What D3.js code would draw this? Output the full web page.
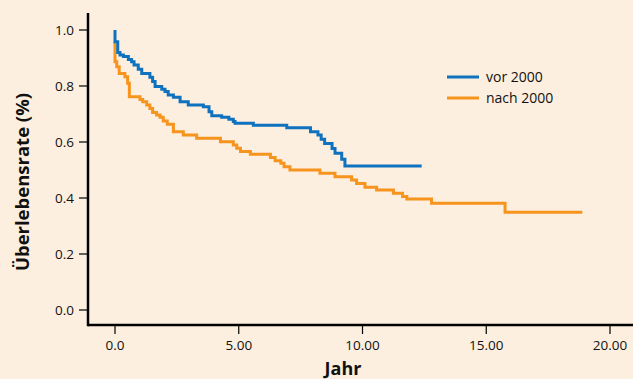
<!DOCTYPE html>
<html><head><meta charset="utf-8">
<script src="https://cdn.jsdelivr.net/npm/d3@7"></script>
<style>
html,body{margin:0;padding:0;background:#fcefdf;}
svg{display:block;font-family:"Open Sans",sans-serif;}
</style></head>
<body>
<svg id="chart" width="633" height="379"></svg>
<script>
const seriesNames = ["vor 2000", "nach 2000"];
const seriesColors = ["#0f72bf", "#f7941d"];
const vorT = [0, 0, 0.11, 0.2, 0.34, 0.54, 0.67, 0.77, 0.94, 1.08, 1.41, 1.52, 1.62, 1.89, 2.02, 2.15, 2.36, 2.63, 2.96, 3.57, 3.8, 3.91, 4.31, 4.6, 4.78, 4.85, 5.59, 6.94, 7.9, 8.2, 8.33, 8.47, 8.77, 8.89, 9.16, 9.29, 12.39];
const vorS = [1.0, 0.958, 0.92, 0.911, 0.905, 0.895, 0.887, 0.875, 0.86, 0.845, 0.831, 0.816, 0.798, 0.788, 0.78, 0.768, 0.76, 0.744, 0.732, 0.726, 0.708, 0.694, 0.688, 0.681, 0.673, 0.667, 0.66, 0.651, 0.637, 0.625, 0.61, 0.595, 0.577, 0.56, 0.538, 0.514, 0.514];
const nachT = [0, 0, 0.07, 0.17, 0.40, 0.51, 0.58, 1.01, 1.12, 1.28, 1.41, 1.52, 1.68, 1.82, 1.95, 2.11, 2.36, 2.76, 3.30, 4.26, 4.78, 4.92, 5.07, 5.47, 6.28, 6.47, 6.7, 6.83, 7.07, 8.28, 8.89, 9.56, 9.76, 10.1, 10.57, 11.25, 11.62, 11.79, 12.79, 15.76, 18.88];
const nachS = [0.958, 0.887, 0.869, 0.845, 0.833, 0.81, 0.762, 0.752, 0.744, 0.732, 0.72, 0.705, 0.696, 0.688, 0.675, 0.663, 0.637, 0.625, 0.613, 0.601, 0.589, 0.578, 0.566, 0.556, 0.545, 0.533, 0.524, 0.512, 0.5, 0.488, 0.476, 0.464, 0.452, 0.438, 0.429, 0.417, 0.405, 0.396, 0.381, 0.349, 0.349];
const xTicks = [0, 5, 10, 15, 20];
const xTickLabels = ["0.0", "5.00", "10.00", "15.00", "20.00"];
const yTicks = [0, 0.2, 0.4, 0.6, 0.8, 1.0];
const yTickLabels = ["0.0", "0.2", "0.4", "0.6", "0.8", "1.0"];
const xTitle = "Jahr";
const yTitle = "Überlebensrate (%)";

const svg = d3.select("#chart");
const x = d3.scaleLinear().domain([0, 20]).range([115, 610]);
const y = d3.scaleLinear().domain([0, 1]).range([310, 30]);

// axes
const xAxisY = 325, yAxisX = 88;
svg.append("line").attr("x1", yAxisX).attr("x2", 633).attr("y1", xAxisY).attr("y2", xAxisY)
  .attr("stroke", "#000").attr("stroke-width", 2.5);
svg.append("line").attr("x1", yAxisX).attr("x2", yAxisX).attr("y1", 13).attr("y2", xAxisY + 1.2)
  .attr("stroke", "#000").attr("stroke-width", 2.5);

const xg = svg.append("g");
xTicks.forEach((t, i) => {
  xg.append("line").attr("x1", x(t)).attr("x2", x(t)).attr("y1", xAxisY).attr("y2", xAxisY + 9)
    .attr("stroke", "#000").attr("stroke-width", 1.2);
  xg.append("text").attr("x", x(t)).attr("y", 350).attr("text-anchor", "middle")
    .attr("font-size", 13.5).attr("fill", "#111").text(xTickLabels[i]);
});
const yg = svg.append("g");
yTicks.forEach((t, i) => {
  yg.append("line").attr("x1", yAxisX - 9).attr("x2", yAxisX).attr("y1", y(t)).attr("y2", y(t))
    .attr("stroke", "#000").attr("stroke-width", 1.2);
  yg.append("text").attr("x", 74).attr("y", y(t)).attr("dy", "0.35em").attr("text-anchor", "end")
    .attr("font-size", 13.5).attr("fill", "#111").text(yTickLabels[i]);
});

svg.append("text").attr("x", 343).attr("y", 375).attr("text-anchor", "middle")
  .attr("font-size", 18).attr("font-weight", "bold").attr("fill", "#111").text(xTitle);
svg.append("text").attr("transform", "translate(29,182) rotate(-90)").attr("text-anchor", "middle")
  .attr("font-size", 18.5).attr("font-weight", "bold").attr("fill", "#111").text(yTitle);

// curves
const line = d3.line().x(d => x(d[0])).y(d => y(d[1])).curve(d3.curveStepAfter);
const series = [d3.zip(vorT, vorS), d3.zip(nachT, nachS)];
[1, 0].forEach(i => {
  svg.append("path").attr("d", line(series[i])).attr("fill", "none")
    .attr("stroke", seriesColors[i]).attr("stroke-width", 3);
});

// legend
seriesNames.forEach((n, i) => {
  const ly = 77 + i * 21;
  svg.append("line").attr("x1", 447).attr("x2", 479).attr("y1", ly).attr("y2", ly)
    .attr("stroke", seriesColors[i]).attr("stroke-width", 3);
  svg.append("text").attr("x", 486).attr("y", ly).attr("dy", "0.35em")
    .attr("font-size", 14).attr("fill", "#111").text(n);
});
</script>
</body></html>
